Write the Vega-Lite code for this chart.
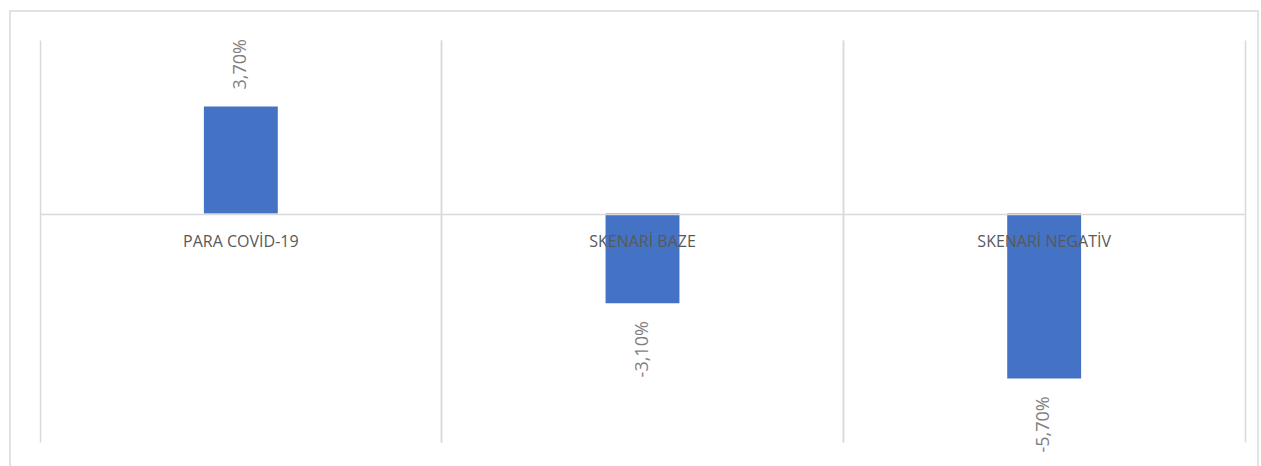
{
  "$schema": "https://vega.github.io/schema/vega-lite/v6.json",
  "width": 1248,
  "height": 459,
  "autosize": {"type": "none"},
  "padding": {"left": 10, "top": 11, "right": 3, "bottom": 0},
  "config": {
    "view": {"stroke": "#d9d9d9", "strokeWidth": 1.5},
    "font": "Open Sans"
  },
  "data": {"values": [
    {"kategoria": "PARA COVİD-19", "rritja": 0.037, "etiketa": "3,70%"},
    {"kategoria": "SKENARİ BAZE", "rritja": -0.031, "etiketa": "-3,10%"},
    {"kategoria": "SKENARİ NEGATİV", "rritja": -0.057, "etiketa": "-5,70%"}
  ]},
  "resolve": {"axis": {"y": "independent", "x": "independent"}},
  "layer": [
    {
      "mark": {"type": "bar", "color": "#4472C4", "width": {"band": 0.184}},
      "encoding": {
        "x": {"field": "kategoria", "type": "nominal", "sort": null, "title": null,
              "scale": {"paddingInner": 0, "paddingOuter": 0.05353, "align": 0.6977},
              "axis": {"orient": "bottom", "offset": -28, "bandPosition": 0, "grid": false,
                       "domain": false, "ticks": true, "tickSize": -402, "tickColor": "#d9d9d9", "tickWidth": 1.5,
                       "labels": false}},
        "y": {"field": "rritja", "type": "quantitative", "title": null,
              "scale": {"domain": [-0.08868, 0.07003], "nice": false, "zero": false},
              "axis": {"orient": "left", "offset": -30, "values": [0], "grid": false,
                       "ticks": true, "tickSize": -1205, "tickColor": "#d9d9d9", "tickWidth": 1.5,
                       "labels": false, "domain": false, "zindex": 1}}
      }
    },
    {
      "transform": [{"filter": "datum.rritja >= 0"}],
      "mark": {"type": "text", "color": "#7f7f7f", "fontSize": 18, "angle": 270, "align": "left", "baseline": "middle", "dx": 17},
      "encoding": {
        "x": {"field": "kategoria", "type": "nominal", "sort": null, "title": null,
              "axis": {"orient": "bottom", "offset": -28, "bandPosition": 1, "grid": false,
                       "domain": false, "ticks": true, "tickSize": -402, "tickColor": "#d9d9d9", "tickWidth": 1.5,
                       "labels": false}},
        "y": {"field": "rritja", "type": "quantitative", "axis": null},
        "text": {"field": "etiketa", "type": "nominal"}
      }
    },
    {
      "transform": [{"filter": "datum.rritja < 0"}],
      "mark": {"type": "text", "color": "#7f7f7f", "fontSize": 18, "angle": 270, "align": "right", "baseline": "middle", "dx": -18},
      "encoding": {
        "x": {"field": "kategoria", "type": "nominal", "sort": null, "title": null,
              "axis": {"orient": "bottom", "grid": false, "domain": false, "ticks": false,
                       "labelAngle": 0, "labelAlign": "center", "labelBaseline": "middle",
                       "labelPadding": -229, "labelFontSize": 16, "labelColor": "#595959",
                       "labelFont": "Open Sans", "zindex": 1}},
        "y": {"field": "rritja", "type": "quantitative", "axis": null},
        "text": {"field": "etiketa", "type": "nominal"}
      }
    }
  ]
}
